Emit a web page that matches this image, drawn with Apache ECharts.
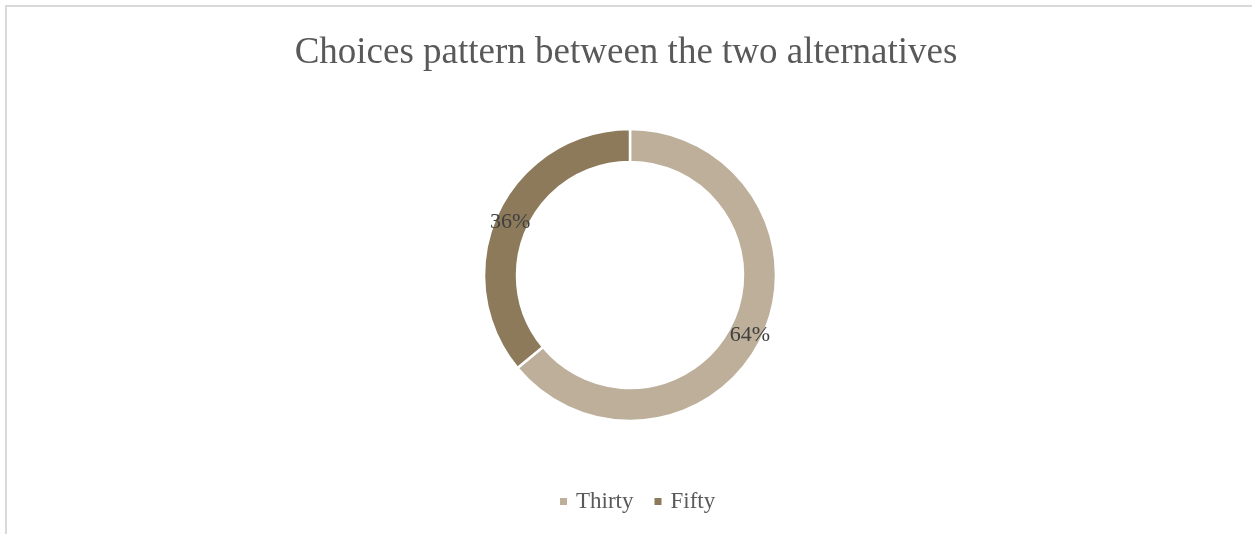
<!DOCTYPE html>
<html>
<head>
<meta charset="utf-8">
<script src="https://cdn.jsdelivr.net/npm/echarts@6/dist/echarts.min.js"></script>
<style>
  html, body { margin: 0; padding: 0; background: #ffffff; }
  #chart { width: 1252px; height: 534px; }
</style>
</head>
<body>
<div id="chart"></div>
<script>
// Share of choices for each alternative (percent)
const categories = ['Thirty', 'Fifty'];
const shares = [64, 36];
const colors = ['#BDAF9A', '#8C7A5B'];
const titleText = 'Choices pattern between the two alternatives';

const serif = '"Liberation Serif", "Times New Roman", "DejaVu Serif", serif';

const chart = echarts.init(document.getElementById('chart'), null, { renderer: 'canvas' });

chart.setOption({
  backgroundColor: '#ffffff',
  animation: false,
  color: colors,
  graphic: [{
    type: 'rect',
    shape: { x: 6, y: 6, width: 1400, height: 700 },
    style: { fill: 'none', stroke: '#d9d9d9', lineWidth: 2 },
    silent: true
  }],
  title: {
    text: titleText,
    left: 'center',
    top: 30,
    textStyle: {
      fontFamily: serif,
      fontSize: 37,
      fontWeight: 'normal',
      color: '#595959'
    }
  },
  legend: {
    data: categories,
    left: 553,
    top: 485,
    icon: 'rect',
    itemWidth: 9,
    itemHeight: 9,
    itemGap: 19,
    textStyle: {
      fontFamily: serif,
      fontSize: 23,
      color: '#595959',
      padding: [0, 0, 0, 3]
    }
  },
  series: [{
    type: 'pie',
    center: [630, 275],
    radius: [113, 146],
    startAngle: 90,
    clockwise: true,
    avoidLabelOverlap: false,
    itemStyle: { borderColor: '#ffffff', borderWidth: 2.5 },
    label: {
      show: true,
      position: 'inside',
      formatter: '{d}%',
      fontFamily: serif,
      fontSize: 22,
      color: '#404040',
      offset: [0, 4]
    },
    labelLine: { show: false },
    emphasis: { disabled: true },
    data: categories.map((name, i) => ({ name: name, value: shares[i] }))
  }]
});
</script>
</body>
</html>
